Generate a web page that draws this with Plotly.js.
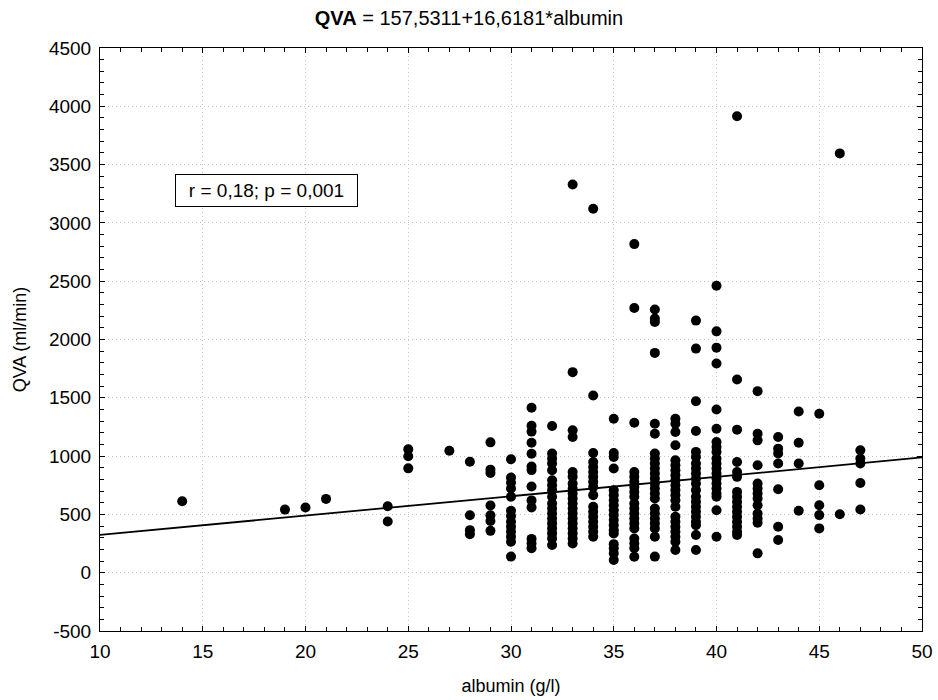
<!DOCTYPE html>
<html>
<head>
<meta charset="utf-8">
<script src="https://cdn.plot.ly/plotly-3.0.1.min.js"></script>
<style>
  html, body { margin: 0; padding: 0; background: #ffffff; }
  #chart { width: 938px; height: 700px; }
</style>
</head>
<body>
<div id="chart"></div>
<script>
// Albumin (g/l) for each patient
const albumin = [
  14, 19, 20, 21, 24, 24, 25, 25, 25, 27,
  28, 28, 28, 28,
  29, 29, 29, 29, 29, 29, 29,
  30, 30, 30, 30, 30, 30, 30, 30, 30, 30, 30, 30, 30,
  31, 31, 31, 31, 31, 31, 31, 31, 31, 31, 31, 31, 31,
  32, 32, 32, 32, 32, 32, 32, 32, 32, 32, 32, 32, 32, 32, 32, 32, 32, 32,
  33, 33, 33, 33, 33, 33, 33, 33, 33, 33, 33, 33, 33, 33, 33, 33, 33, 33, 33,
  34, 34, 34, 34, 34, 34, 34, 34, 34, 34, 34, 34, 34, 34, 34, 34, 34,
  35, 35, 35, 35, 35, 35, 35, 35, 35, 35, 35, 35, 35, 35, 35, 35, 35, 35,
  36, 36, 36, 36, 36, 36, 36, 36, 36, 36, 36, 36, 36, 36, 36, 36, 36, 36, 36,
  37, 37, 37, 37, 37, 37, 37, 37, 37, 37, 37, 37, 37, 37, 37, 37, 37, 37, 37, 37, 37, 37, 37,
  38, 38, 38, 38, 38, 38, 38, 38, 38, 38, 38, 38, 38, 38, 38, 38, 38, 38, 38, 38, 38,
  39, 39, 39, 39, 39, 39, 39, 39, 39, 39, 39, 39, 39, 39, 39, 39, 39, 39, 39, 39, 39,
  40, 40, 40, 40, 40, 40, 40, 40, 40, 40, 40, 40, 40, 40, 40, 40, 40, 40, 40, 40,
  41, 41, 41, 41, 41, 41, 41, 41, 41, 41, 41, 41, 41, 41, 41, 41,
  42, 42, 42, 42, 42, 42, 42, 42, 42, 42, 42, 42, 42,
  43, 43, 43, 43, 43, 43, 43,
  44, 44, 44, 44,
  45, 45, 45, 45, 45,
  46, 46,
  47, 47, 47, 47, 47
];

// QVA (ml/min) for each patient, same order
const qva = [
  613, 541, 559, 633, 570, 439, 1058, 998, 895, 1046,
  952, 493, 365, 330,
  1118, 884, 855, 576, 493, 444, 359,
  973, 816, 771, 722, 651, 531, 486, 437, 394, 352, 309, 266, 138,
  1415, 1260, 1210, 1115, 1020, 910, 880, 740, 620, 560, 290, 250, 210,
  1258, 1022, 979, 936, 879, 793, 750, 708, 651, 594, 551, 508, 465, 423, 380, 337, 294, 237,
  3330, 1720, 1221, 1164, 864, 822, 765, 722, 679, 636, 594, 551, 508, 465, 423, 380, 337, 294, 251,
  3122, 1520, 1027, 950, 907, 864, 822, 779, 736, 665, 565, 522, 480, 437, 394, 351, 308,
  1321, 1027, 993, 893, 708, 665, 622, 579, 536, 494, 451, 408, 365, 337, 245, 209, 166, 109,
  2818, 2270, 1286, 864, 822, 779, 736, 693, 651, 594, 551, 508, 465, 423, 380, 294, 251, 209, 137,
  2258, 2180, 2150, 1885, 1278, 1192, 1022, 979, 936, 893, 850, 808, 765, 722, 679, 636, 551, 508, 465, 423, 380, 309, 138,
  1321, 1278, 1207, 1093, 964, 922, 879, 836, 793, 750, 708, 665, 622, 565, 480, 437, 394, 351, 309, 266, 194,
  2162, 1922, 1470, 1215, 1036, 993, 936, 893, 850, 808, 765, 708, 651, 608, 565, 522, 480, 437, 408, 323, 194,
  2461, 2070, 1930, 1794, 1400, 1235, 1121, 1078, 1036, 979, 936, 893, 850, 808, 765, 722, 679, 651, 536, 308,
  3915, 1657, 1227, 950, 864, 822, 693, 651, 608, 565, 522, 480, 437, 394, 351, 323,
  1557, 1192, 1135, 922, 765, 722, 679, 636, 579, 508, 465, 428, 166,
  1164, 1064, 1022, 936, 716, 394, 280,
  1383, 1115, 936, 531,
  1363, 750, 579, 494, 380,
  3596, 502,
  1050, 979, 936, 770, 542
];

// Regression line from the title: QVA = 157,5311 + 16,6181*albumin
const fitIntercept = 157.5311;
const fitSlope = 16.6181;
const fitX = [10, 50];
const fitY = fitX.map(v => fitIntercept + fitSlope * v);

const xTicks = [10, 15, 20, 25, 30, 35, 40, 45, 50];
const yTicks = [-500, 0, 500, 1000, 1500, 2000, 2500, 3000, 3500, 4000, 4500];

const FONT = 'Liberation Sans, Arial, sans-serif';

const traces = [
  {
    type: 'scatter', mode: 'lines',
    x: fitX, y: fitY,
    line: { color: '#000000', width: 1.8 },
    hoverinfo: 'skip', showlegend: false
  },
  {
    type: 'scatter', mode: 'markers',
    x: albumin, y: qva,
    marker: { color: '#000000', size: 10, symbol: 'circle', line: { width: 0 } },
    showlegend: false
  }
];

const axisCommon = {
  showline: true, linecolor: '#000000', linewidth: 1, mirror: 'allticks',
  ticks: 'inside', ticklen: 5, tickcolor: '#000000', tickwidth: 1,
  showgrid: true, gridcolor: '#c4c4c4', griddash: '1px,3px', gridwidth: 1,
  zeroline: false,
  tickfont: { family: FONT, size: 19, color: '#000000' }
};

const layout = {
  width: 938, height: 700,
  paper_bgcolor: '#ffffff', plot_bgcolor: '#ffffff',
  margin: { l: 100, r: 16, t: 48, b: 69, pad: 0 },
  showlegend: false,
  title: {
    text: '<b>QVA</b> = 157,5311+16,6181*albumin',
    font: { family: FONT, size: 20, color: '#000000' },
    x: 0.5, xref: 'container', xanchor: 'center',
    y: 1 - 18 / 700, yref: 'container', yanchor: 'middle'
  },
  xaxis: Object.assign({}, axisCommon, {
    range: [10, 50], tickvals: xTicks, ticktext: xTicks.map(String),
    ticklabelstandoff: 3,
    minor: { dtick: 1, ticks: 'inside', ticklen: 4, tickcolor: '#000000', showgrid: false },
    title: { text: 'albumin (g/l)', font: { family: FONT, size: 18, color: '#000000' }, standoff: 18 }
  }),
  yaxis: Object.assign({}, axisCommon, {
    range: [-500, 4500], tickvals: yTicks, ticktext: yTicks.map(String),
    ticklabelstandoff: 4,
    minor: { dtick: 100, ticks: 'inside', ticklen: 4, tickcolor: '#000000', showgrid: false },
    title: { text: 'QVA (ml/min)', font: { family: FONT, size: 18, color: '#000000' }, standoff: 17 }
  }),
  annotations: [{
    xref: 'paper', yref: 'paper', x: 0.2026, y: 0.756,
    xanchor: 'center', yanchor: 'middle',
    text: 'r = 0,18; p = 0,001', showarrow: false,
    font: { family: FONT, size: 19, color: '#000000' },
    bgcolor: '#ffffff', bordercolor: '#000000', borderwidth: 1,
    width: 177, height: 27, borderpad: 2
  }]
};

Plotly.newPlot('chart', traces, layout, { displayModeBar: false, staticPlot: true });
</script>
</body>
</html>
